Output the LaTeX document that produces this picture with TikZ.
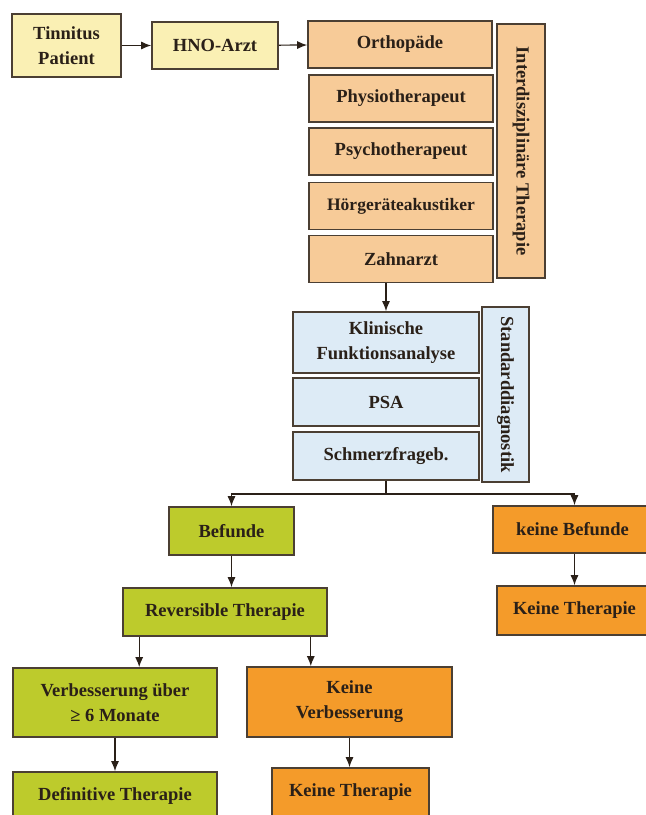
\documentclass[tikz,border=0pt]{standalone}
\usepackage{fontspec}
\setmainfont{Liberation Serif}
\usetikzlibrary{arrows.meta}

\definecolor{boxline}{HTML}{4B3F33}
\definecolor{txt}{HTML}{2A2018}
\definecolor{paleyellow}{HTML}{FAF0B4}
\definecolor{paleorange}{HTML}{F7CB98}
\definecolor{paleblue}{HTML}{DDEBF6}
\definecolor{lime}{HTML}{BDCB2C}
\definecolor{strongorange}{HTML}{F49B2A}

\begin{document}
\begin{tikzpicture}[x=1pt, y=-1pt,
                    box/.style={draw=boxline, line width=1.6pt, inner sep=2pt, align=center, text=txt,
                                font=\fontsize{18.5}{25}\selectfont\bfseries},
                    start/.style={box, fill=paleyellow},
                    therapy/.style={box, fill=paleorange, minimum width=184pt, minimum height=47pt},
                    diag/.style={box, fill=paleblue, minimum width=186pt, minimum height=48pt},
                    good/.style={box, fill=lime},
                    bad/.style={box, fill=strongorange},
                    arr/.style={-{Latex[length=10pt,width=8pt]}, line width=1.2pt, draw=txt}]
\useasboundingbox (0,0) rectangle (646,815);

\node[start, minimum width=109pt, minimum height=63pt] (patient) at (66.5,45.5) {Tinnitus\\Patient};
\node[start, minimum width=126pt, minimum height=47pt] (hno) at (215,45.5) {HNO-Arzt};

\node[therapy] (ortho) at (400,44.5) {Orthopäde};
\node[therapy] (physio) at (401,98.5) {Physiotherapeut};
\node[therapy] (psycho) at (401,151.5) {Psychotherapeut};
\node[therapy, font=\fontsize{17.5}{25}\selectfont\bfseries] (hoer) at (401,206) {Hörgeräteakustiker};
\node[therapy] (zahn) at (401,259) {Zahnarzt};
\node[box, fill=paleorange, rotate=-90, minimum width=254pt, minimum height=48pt] (interdis) at (521,151) {Interdisziplinäre Therapie};

\node[diag, minimum height=61pt] (klinik) at (386,342.5) {Klinische\\Funktionsanalyse};
\node[diag] (psa) at (386,402) {PSA};
\node[diag] (schmerz) at (386,456) {Schmerzfrageb.};
\node[box, fill=paleblue, rotate=-90, minimum width=175pt, minimum height=47pt] (standard) at (505.5,394.5) {Standarddiagnostik};

\node[good, minimum width=125pt, minimum height=48pt] (befunde) at (231.5,531) {Befunde};
\node[bad, minimum width=159pt, minimum height=47pt] (keinbef) at (572.5,529.5) {keine Befunde};
\node[good, minimum width=204pt, minimum height=48pt] (reversibel) at (225,612) {Reversible Therapie};
\node[bad, minimum width=155pt, minimum height=49pt] (keinth1) at (574.5,610.5) {Keine Therapie};
\node[good, minimum width=204pt, minimum height=69pt] (besser) at (115,702.5) {Verbesserung über\\≥ 6 Monate};
\node[bad, minimum width=205pt, minimum height=70pt] (keinbess) at (349.5,702) {Keine\\Verbesserung};
\node[good, minimum width=204pt, minimum height=48pt] (definitiv) at (115,796) {Definitive Therapie};
\node[bad, minimum width=157pt, minimum height=48pt] (keinth2) at (350.5,792) {Keine Therapie};

\coordinate (split) at (386,494);

\draw[arr] (patient) -- (hno);
\draw[arr] (hno) -- (ortho);
\draw[arr] (klinik.north |- zahn.south) -- (klinik.north);
\draw[line width=1.2pt, draw=txt] (schmerz.south) -- (split);
\draw[arr] (split) -| (befunde.north);
\draw[arr] (split) -| ([xshift=2pt]keinbef.north);
\draw[arr] (befunde.south) -- (befunde.south |- reversibel.north);
\draw[arr] ([xshift=2pt]keinbef.south) -- ([xshift=2pt]keinbef.south |- keinth1.north);
\draw[arr] ([xshift=17pt]reversibel.south west) -- ([xshift=17pt]reversibel.south west |- besser.north);
\draw[arr] ([xshift=-17pt]reversibel.south east) -- ([xshift=-17pt]reversibel.south east |- keinbess.north);
\draw[arr] (besser.south) -- (definitiv.north);
\draw[arr] (keinbess.south) -- (keinbess.south |- keinth2.north);
\end{tikzpicture}
\end{document}
